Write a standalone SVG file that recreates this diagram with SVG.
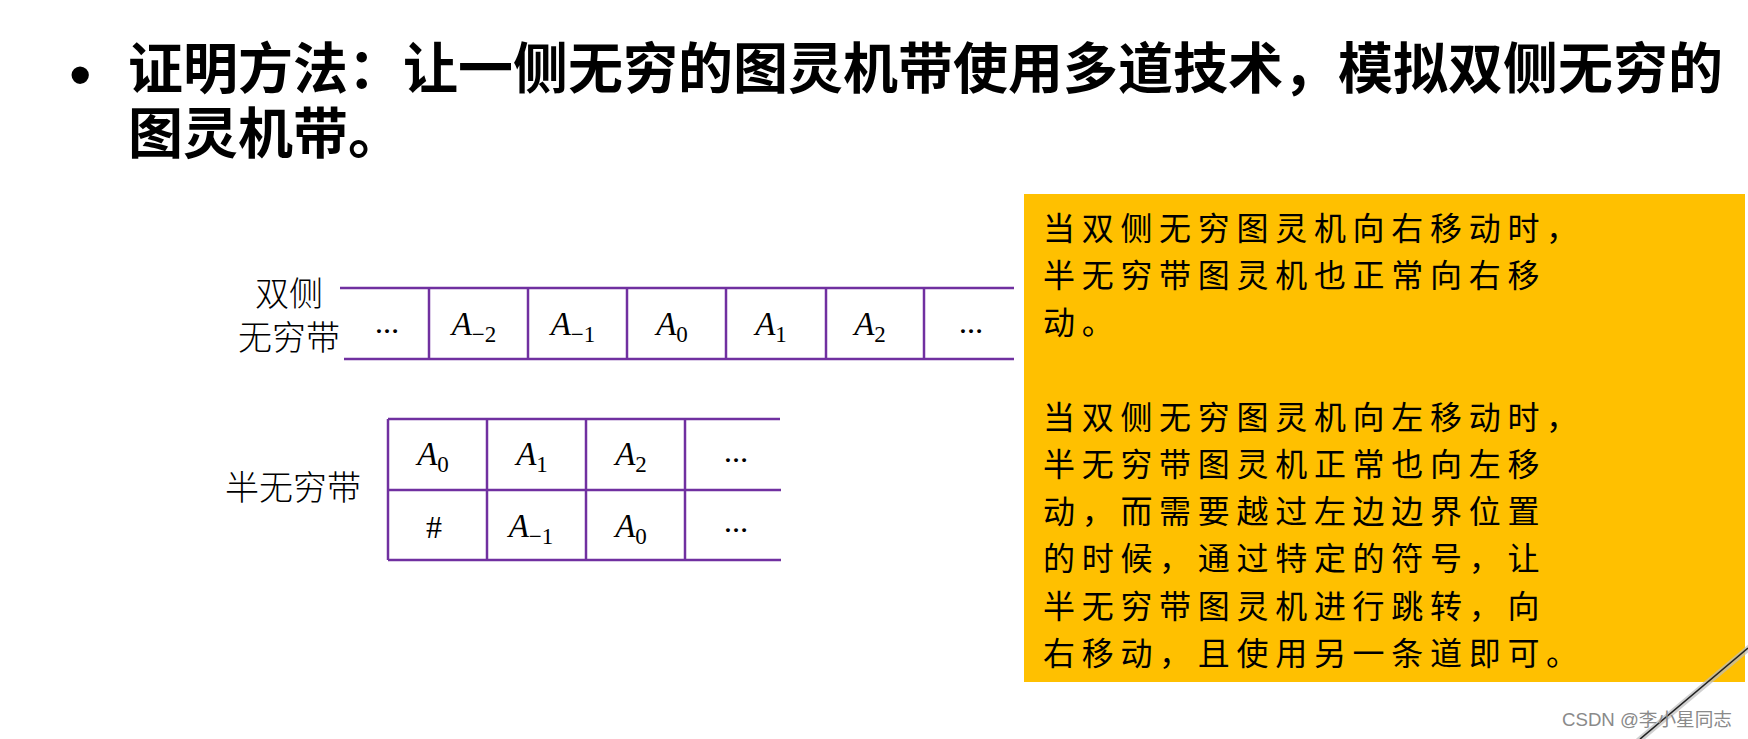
<svg xmlns="http://www.w3.org/2000/svg" width="1748" height="739" viewBox="0 0 1748 739">
<defs>
<style>
.title{font-family:"Noto Sans CJK SC","Liberation Sans",sans-serif;font-weight:bold;font-size:55px;fill:#000}
.lbl{font-family:"Noto Sans CJK SC",sans-serif;font-weight:300;font-size:34px;fill:#000}
.tape{stroke:#7030A0;stroke-width:2.5;fill:none}
.math{font-family:"Liberation Serif","DejaVu Serif",serif;font-style:italic;font-size:33px;fill:#000}
.sub{font-style:normal;font-size:23px}
.dots{font-family:"Liberation Serif",serif;font-size:24px;font-weight:bold;fill:#000}
.hash{font-family:"Liberation Serif",serif;font-size:32px;fill:#000}
.note{font-family:"Noto Sans CJK SC",sans-serif;font-size:32px;letter-spacing:6.7px;fill:#000}
.wm{font-family:"Liberation Sans","Noto Sans CJK SC",sans-serif;font-size:18px;fill:#8a8a8a}
</style>
</defs>
<rect width="1748" height="739" fill="#fff"/>
<g id="title">
<text x="69" y="97" style="font-family:'Liberation Sans',sans-serif;font-size:64px">•</text>
<text class="title" x="128" y="88">证明方法：让一侧无穷的图灵机带使用多道技术，模拟双侧无穷的</text>
<text class="title" x="128" y="153">图灵机带。</text>
</g>
<g id="label-two-sided">
<text class="lbl" x="289" y="306" text-anchor="middle">双侧</text>
<text class="lbl" x="289" y="350" text-anchor="middle">无穷带</text>
</g>
<g id="tape-two-sided">
<line class="tape" x1="340" y1="288" x2="1014" y2="288"/>
<line class="tape" x1="344" y1="359" x2="1014" y2="359"/>
<line class="tape" x1="429" y1="288" x2="429" y2="359"/>
<line class="tape" x1="528" y1="288" x2="528" y2="359"/>
<line class="tape" x1="627" y1="288" x2="627" y2="359"/>
<line class="tape" x1="726" y1="288" x2="726" y2="359"/>
<line class="tape" x1="826" y1="288" x2="826" y2="359"/>
<line class="tape" x1="924" y1="288" x2="924" y2="359"/>
<text class="dots" x="387" y="333" text-anchor="middle">…</text>
<text class="math" x="474" y="335" text-anchor="middle">A<tspan class="sub" dy="7">−2</tspan></text>
<text class="math" x="573" y="335" text-anchor="middle">A<tspan class="sub" dy="7">−1</tspan></text>
<text class="math" x="672" y="335" text-anchor="middle">A<tspan class="sub" dy="7">0</tspan></text>
<text class="math" x="771" y="335" text-anchor="middle">A<tspan class="sub" dy="7">1</tspan></text>
<text class="math" x="870" y="335" text-anchor="middle">A<tspan class="sub" dy="7">2</tspan></text>
<text class="dots" x="971" y="333" text-anchor="middle">…</text>
</g>
<g id="label-half">
<text class="lbl" x="225" y="500">半无穷带</text>
</g>
<g id="tape-half">
<line class="tape" x1="388" y1="419" x2="780" y2="419"/>
<line class="tape" x1="388" y1="490" x2="781" y2="490"/>
<line class="tape" x1="388" y1="560" x2="781" y2="560"/>
<line class="tape" x1="388" y1="419" x2="388" y2="560"/>
<line class="tape" x1="487" y1="419" x2="487" y2="560"/>
<line class="tape" x1="586" y1="419" x2="586" y2="560"/>
<line class="tape" x1="685" y1="419" x2="685" y2="560"/>
<text class="math" x="433" y="465" text-anchor="middle">A<tspan class="sub" dy="7">0</tspan></text>
<text class="math" x="532" y="465" text-anchor="middle">A<tspan class="sub" dy="7">1</tspan></text>
<text class="math" x="631" y="465" text-anchor="middle">A<tspan class="sub" dy="7">2</tspan></text>
<text class="dots" x="736" y="462" text-anchor="middle">…</text>
<text class="hash" x="434" y="538" text-anchor="middle">#</text>
<text class="math" x="531" y="537" text-anchor="middle">A<tspan class="sub" dy="7">−1</tspan></text>
<text class="math" x="631" y="537" text-anchor="middle">A<tspan class="sub" dy="7">0</tspan></text>
<text class="dots" x="736" y="532" text-anchor="middle">…</text>
</g>
<g id="note">
<rect x="1024" y="194" width="721" height="488" fill="#FFC000"/>
<text class="note" x="1043" y="240">当双侧无穷图灵机向右移动时，</text>
<text class="note" x="1043" y="287">半无穷带图灵机也正常向右移</text>
<text class="note" x="1043" y="334">动。</text>
<text class="note" x="1043" y="429">当双侧无穷图灵机向左移动时，</text>
<text class="note" x="1043" y="476">半无穷带图灵机正常也向左移</text>
<text class="note" x="1043" y="523">动，而需要越过左边边界位置</text>
<text class="note" x="1043" y="570">的时候，通过特定的符号，让</text>
<text class="note" x="1043" y="618">半无穷带图灵机进行跳转，向</text>
<text class="note" x="1043" y="665">右移动，且使用另一条道即可。</text>
</g>
<g id="connectors"></g>
<g id="page-curl">
<line x1="1638" y1="741" x2="1750" y2="647" stroke="#bdbdbd" stroke-width="6" opacity="0.7"/>
<line x1="1640" y1="739" x2="1748" y2="648" stroke="#222" stroke-width="1.6"/>
</g>
<g id="watermark">
<text class="wm" x="1562" y="726" textLength="170" lengthAdjust="spacingAndGlyphs">CSDN @李小星同志</text>
</g>
</svg>
